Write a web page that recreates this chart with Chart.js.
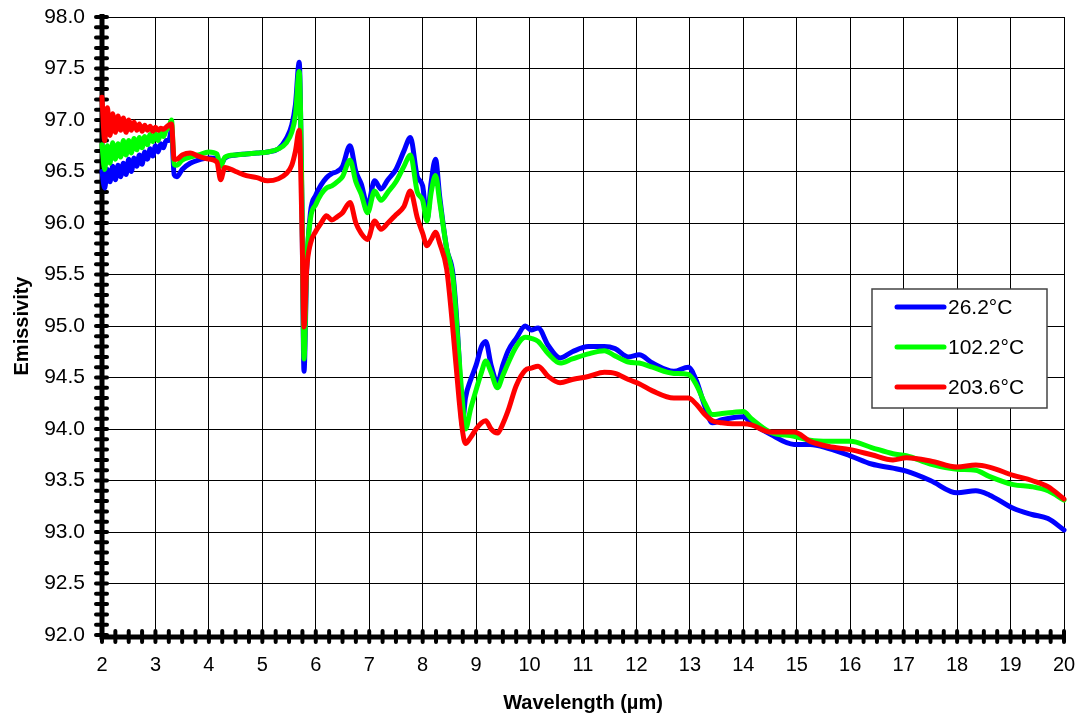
<!DOCTYPE html>
<html>
<head>
<meta charset="utf-8">
<script src="https://cdn.jsdelivr.net/npm/chart.js@4.4.1/dist/chart.umd.min.js"></script>
<style>
  html, body { margin: 0; padding: 0; background: #fff; }
  canvas { display: block; }
</style>
</head>
<body>
<canvas id="emissChart" width="1083" height="721"></canvas>
<script>
// wavelength in µm (shared by all three curves)
const wavelength = [
  2.00, 2.05, 2.10, 2.15, 2.20, 2.25, 2.30, 2.35, 2.40, 2.45, 2.50, 2.55, 2.60, 2.65, 2.70, 2.75, 2.80, 2.85, 2.90, 2.95, 3.00, 3.05, 3.10, 3.15, 3.20, 3.25, 3.30,
  3.35, 3.40, 3.50, 3.65, 3.80, 4.00, 4.15, 4.22, 4.30, 4.50, 4.70, 4.90, 5.10, 5.30, 5.45, 5.55, 5.62, 5.69, 5.74, 5.78, 5.83, 5.90,
  6.00, 6.10, 6.20, 6.30, 6.40, 6.50, 6.64, 6.75, 6.85, 6.97, 7.10, 7.22, 7.35, 7.50, 7.65, 7.77, 7.90,
  8.00, 8.08, 8.16, 8.24, 8.32, 8.45, 8.57, 8.68, 8.74, 8.80, 8.90, 9.00, 9.10, 9.18, 9.28, 9.40, 9.50, 9.60, 9.75, 9.92,
  10.03, 10.16, 10.35, 10.57, 10.80, 11.10, 11.40, 11.60, 11.85, 12.05, 12.30, 12.70, 12.97, 13.12, 13.28, 13.42, 13.60, 13.80,
  14.00, 14.15, 14.50, 14.95, 15.25, 15.60, 16.00, 16.40, 16.80, 17.05, 17.50, 18.00, 18.35, 18.60, 19.05, 19.40, 19.70, 20.00
];

const emis26 = [
  96.50, 96.34, 96.52, 96.40, 96.55, 96.42, 96.56, 96.45, 96.58, 96.47, 96.62, 96.50, 96.63, 96.55, 96.66, 96.57, 96.69, 96.62, 96.72, 96.65, 96.75, 96.69, 96.77, 96.73, 96.80, 96.80, 96.90,
  96.47, 96.45, 96.52, 96.58, 96.61, 96.63, 96.62, 96.57, 96.63, 96.66, 96.67, 96.68, 96.69, 96.72, 96.82, 96.95, 97.15, 97.56, 96.20, 94.56, 95.55, 96.10,
  96.27, 96.37, 96.44, 96.48, 96.50, 96.55, 96.75, 96.50, 96.38, 96.17, 96.41, 96.33, 96.42, 96.52, 96.70, 96.83, 96.45,
  96.36, 96.03, 96.40, 96.62, 96.25, 95.75, 95.49, 94.70, 94.03, 94.30, 94.48, 94.62, 94.80, 94.85, 94.62, 94.45, 94.62, 94.76, 94.88, 95.00,
  94.96, 94.98, 94.81, 94.69, 94.75, 94.80, 94.80, 94.78, 94.70, 94.72, 94.64, 94.56, 94.60, 94.47, 94.22, 94.06, 94.09, 94.11,
  94.12, 94.06, 93.95, 93.85, 93.85, 93.81, 93.74, 93.66, 93.62, 93.59, 93.50, 93.38, 93.40, 93.36, 93.23, 93.17, 93.13, 93.02
];

const emis102 = [
  96.76, 96.52, 96.75, 96.58, 96.78, 96.62, 96.77, 96.64, 96.80, 96.66, 96.80, 96.68, 96.82, 96.71, 96.83, 96.73, 96.84, 96.76, 96.86, 96.79, 96.87, 96.80, 96.88, 96.84, 96.90, 96.93, 97.00,
  96.57, 96.56, 96.61, 96.64, 96.66, 96.69, 96.67, 96.55, 96.64, 96.66, 96.67, 96.68, 96.69, 96.72, 96.78, 96.88, 97.05, 97.47, 96.30, 94.68, 95.60, 96.04,
  96.18, 96.28, 96.34, 96.36, 96.40, 96.45, 96.61, 96.40, 96.28, 96.10, 96.31, 96.22, 96.30, 96.40, 96.55, 96.66, 96.30,
  96.22, 96.02, 96.30, 96.46, 96.20, 95.75, 95.45, 94.70, 94.30, 94.00, 94.20, 94.38, 94.55, 94.66, 94.55, 94.40, 94.52, 94.64, 94.80, 94.89,
  94.88, 94.85, 94.73, 94.64, 94.68, 94.73, 94.76, 94.71, 94.65, 94.64, 94.60, 94.54, 94.53, 94.43, 94.25, 94.14, 94.15, 94.16,
  94.17, 94.10, 93.97, 93.93, 93.89, 93.88, 93.88, 93.82, 93.76, 93.74, 93.66, 93.61, 93.60, 93.54, 93.46, 93.44, 93.40, 93.31
];

const emis203 = [
  97.22, 96.80, 97.12, 96.85, 97.06, 96.88, 97.04, 96.90, 97.02, 96.88, 97.00, 96.90, 96.98, 96.90, 96.96, 96.89, 96.95, 96.90, 96.94, 96.89, 96.93, 96.90, 96.92, 96.91, 96.93, 96.95, 96.96,
  96.62, 96.62, 96.66, 96.68, 96.65, 96.62, 96.59, 96.42, 96.54, 96.50, 96.46, 96.44, 96.41, 96.43, 96.48, 96.56, 96.70, 96.90, 96.00, 94.99, 95.55, 95.80,
  95.92, 96.00, 96.07, 96.03, 96.06, 96.10, 96.20, 96.00, 95.90, 95.84, 96.02, 95.94, 96.00, 96.08, 96.16, 96.31, 96.05,
  95.90, 95.78, 95.84, 95.91, 95.80, 95.55, 94.94, 94.29, 94.00, 93.86, 93.92, 94.00, 94.06, 94.08, 94.00, 93.96, 94.05, 94.18, 94.42, 94.57,
  94.59, 94.61, 94.51, 94.45, 94.48, 94.51, 94.55, 94.54, 94.48, 94.44, 94.37, 94.30, 94.30, 94.24, 94.14, 94.08, 94.06, 94.05,
  94.05, 94.04, 93.97, 93.97, 93.88, 93.83, 93.80, 93.75, 93.70, 93.72, 93.69, 93.63, 93.65, 93.63, 93.55, 93.50, 93.44, 93.32
];

const seriesLabels = ['26.2°C', '102.2°C', '203.6°C'];
const seriesColors = ['#0000ff', '#00ff00', '#ff0000'];

const toPoints = (vals) => vals.map((v, i) => ({ x: wavelength[i], y: v }));

// thick black axis lines with little "bead" tick marks (Excel look)
const beadAxesPlugin = {
    id: 'beadAxes',
    beforeDatasetsDraw: (chart) => {
        const { ctx, chartArea, scales: { x, y } } = chart;
        ctx.save();
        ctx.strokeStyle = '#000';
        ctx.lineCap = 'butt';
        ctx.lineWidth = 5;
        ctx.beginPath();
        ctx.moveTo(chartArea.left, chartArea.top - 3);
        ctx.lineTo(chartArea.left, chartArea.bottom + 2);
        ctx.lineTo(chartArea.right + 2, chartArea.bottom + 2);
        ctx.stroke();

        ctx.lineCap = 'round';
        ctx.lineWidth = 4;
        // y minor ticks every 0.1
        for (let i = 0; i <= 60; i++) {
            const py = y.getPixelForValue(92 + i * 0.1);
            ctx.beginPath();
            ctx.moveTo(chartArea.left - 6, py);
            ctx.lineTo(chartArea.left + 5, py);
            ctx.stroke();
        }
        // x minor ticks every 0.25
        for (let i = 0; i <= 72; i++) {
            const px = x.getPixelForValue(2 + i * 0.25);
            ctx.beginPath();
            ctx.moveTo(px, chartArea.bottom - 4);
            ctx.lineTo(px, chartArea.bottom + 7);
            ctx.stroke();
        }
        ctx.restore();
    }
};

// boxed legend sitting inside the plot
const boxLegendPlugin = {
    id: 'boxLegend',
    afterDraw: (chart) => {
        const ctx = chart.ctx;
        const boxL = 872, boxT = 289, boxW = 175, boxH = 119;
        ctx.save();
        ctx.fillStyle = '#fff';
        ctx.fillRect(boxL, boxT, boxW, boxH);
        ctx.strokeStyle = '#444';
        ctx.lineWidth = 1.5;
        ctx.strokeRect(boxL, boxT, boxW, boxH);
        ctx.font = '21px "Liberation Sans", Arial, sans-serif';
        ctx.textBaseline = 'middle';
        ctx.textAlign = 'left';
        chart.data.datasets.forEach((ds, i) => {
            const yy = boxT + 18 + i * 40;
            ctx.strokeStyle = ds.borderColor;
            ctx.lineWidth = 5;
            ctx.lineCap = 'round';
            ctx.beginPath();
            ctx.moveTo(897, yy);
            ctx.lineTo(944, yy);
            ctx.stroke();
            ctx.fillStyle = '#000';
            ctx.fillText(ds.label, 948, yy + 1);
        });
        ctx.restore();
    }
};

Chart.defaults.font.family = '"Liberation Sans", Arial, sans-serif';
Chart.defaults.color = '#000';

new Chart(document.getElementById('emissChart').getContext('2d'), {
    type: 'line',
    data: {
        datasets: [
            { label: seriesLabels[0], data: toPoints(emis26), borderColor: seriesColors[0], order: 3 },
            { label: seriesLabels[1], data: toPoints(emis102), borderColor: seriesColors[1], order: 2 },
            { label: seriesLabels[2], data: toPoints(emis203), borderColor: seriesColors[2], order: 1 }
        ]
    },
    options: {
        responsive: false,
        animation: false,
        clip: 6,
        layout: { padding: { top: 17, right: 19, left: 0, bottom: 0 } },
        elements: {
            line: { borderWidth: 5, cubicInterpolationMode: 'monotone', borderJoinStyle: 'round', borderCapStyle: 'round', fill: false },
            point: { radius: 0, hoverRadius: 0 }
        },
        scales: {
            x: {
                type: 'linear',
                min: 2,
                max: 20,
                afterFit: (s) => { s.height = 86; s.paddingLeft = 0; s.paddingRight = 0; },
                grid: { color: '#000', lineWidth: 1, drawTicks: false },
                border: { display: false },
                ticks: { stepSize: 1, padding: 18, font: { size: 20 }, maxRotation: 0 },
                title: { display: true, text: 'Wavelength (µm)', font: { size: 20, weight: 'bold' }, padding: { top: 0, bottom: 6 } }
            },
            y: {
                type: 'linear',
                min: 92,
                max: 98,
                afterFit: (s) => { s.width = 102; s.paddingTop = 0; s.paddingBottom = 0; },
                grid: { color: '#000', lineWidth: 1, drawTicks: false },
                border: { display: false },
                ticks: { stepSize: 0.5, padding: 17, font: { size: 21 }, callback: (v) => v.toFixed(1) },
                title: { display: true, text: 'Emissivity', font: { size: 20, weight: 'bold' }, padding: { top: 10, bottom: 0 } }
            }
        },
        plugins: {
            legend: { display: false },
            tooltip: { enabled: false }
        }
    },
    plugins: [beadAxesPlugin, boxLegendPlugin]
});
</script>
</body>
</html>
